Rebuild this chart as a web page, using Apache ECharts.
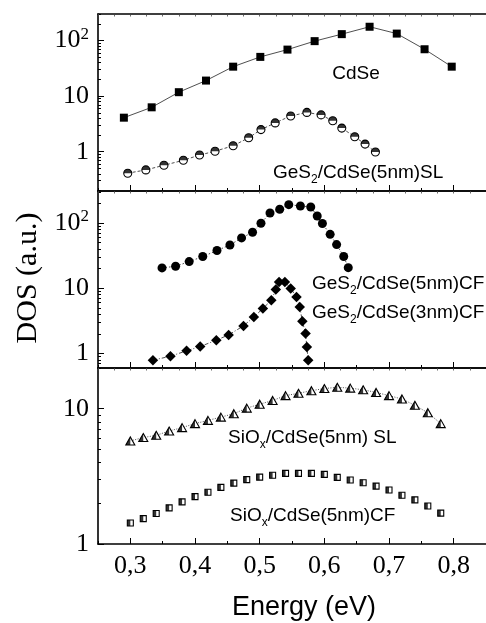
<!DOCTYPE html>
<html>
<head>
<meta charset="utf-8">
<script src="https://cdn.jsdelivr.net/npm/echarts@6/dist/echarts.min.js"></script>
<style>html,body{margin:0;padding:0;background:#fff}#c{width:486px;height:623px}</style>
</head>
<body>
<div id="c"></div>
<script>
// ---- data ----
const energyCdSe = [0.290,0.333,0.375,0.417,0.459,0.501,0.543,0.585,0.627,0.670,0.712,0.755,0.797];
const dosCdSe    = [4.1,6.3,11.8,19.1,34,51,69,98,131,178,134,70,34];

const energyGeSL = [0.296,0.324,0.352,0.382,0.407,0.431,0.459,0.483,0.502,0.524,0.548,0.573,0.595,0.613,0.627,0.647,0.663,0.679];
const dosGeSL    = [0.41,0.47,0.57,0.70,0.87,1.02,1.28,1.78,2.5,3.3,4.4,5.1,4.6,3.6,2.66,1.86,1.37,0.99];

const energyGe5CF = [0.349,0.370,0.391,0.412,0.434,0.454,0.472,0.489,0.502,0.516,0.531,0.545,0.563,0.579,0.589,0.597,0.609,0.619,0.630,0.637];
const dosGe5CF    = [20.5,21.7,25.6,30.6,37.8,46,59,72,99,142,162,191,182,176,128,98,67,46.7,30.6,20.7];

const energyGe3CF = [0.335,0.362,0.387,0.408,0.433,0.452,0.475,0.491,0.505,0.518,0.525,0.530,0.539,0.548,0.557,0.562,0.566,0.571,0.573,0.575];
const dosGe3CF    = [0.79,0.91,1.10,1.28,1.60,1.93,2.65,3.63,4.89,6.55,9.55,12.5,12.5,9.9,7.36,5.17,3.12,2.02,1.26,0.79];

const energySiO = [0.30,0.32,0.34,0.36,0.38,0.40,0.42,0.44,0.46,0.48,0.50,0.52,0.54,0.56,0.58,0.60,0.62,0.64,0.66,0.68,0.70,0.72,0.74,0.76,0.78];
const dosSiOSL  = [5.78,6.12,6.36,6.84,7.25,7.76,8.2,8.67,9.19,10.1,10.8,11.5,12.5,13.0,13.6,14.1,14.4,14.2,13.8,13.2,12.5,11.8,10.6,9.35,7.76];
const dosSiOCF  = [1.43,1.54,1.68,1.85,2.05,2.24,2.41,2.62,2.82,2.99,3.12,3.22,3.33,3.33,3.33,3.27,3.11,2.97,2.84,2.68,2.51,2.29,2.12,1.91,1.69];

const xTickLabels = [0.3,0.4,0.5,0.6,0.7,0.8];
const xMinorTicks = [0.25,0.35,0.45,0.55,0.65,0.75,0.85];
const yTickLabels = [1,10,100];

// ---- helpers ----
const pair = (xs, ys) => xs.map((x, i) => [x, ys[i]]);
const topTicks = [];
for (let i = 0; i <= 24; i++) topTicks.push(+(0.25 + i * 0.025).toFixed(3));
const logMinor = (lo, hi) => {
  const out = [];
  for (let d = -1; d <= 2; d++) for (let m = 2; m <= 9; m++) {
    const v = +(m * Math.pow(10, d)).toPrecision(3);
    if (v >= lo && v <= hi) out.push(v);
  }
  return out;
};

const serif = '"Liberation Serif","DejaVu Serif",serif';
const sans = '"Liberation Sans",Arial,sans-serif';
const BLACK = '#000';

const grids = [
  {left: 98, right: -8, top: 14, height: 177},
  {left: 98, right: -8, top: 191, height: 177},
  {left: 98, right: -8, top: 368, height: 176}
];
const yRanges = [[0.196, 302], [0.6, 309], [1, 20]];

const xAxes = [], yAxes = [];
grids.forEach((g, gi) => {
  const isBottom = gi === 2;
  xAxes.push({
    type: 'value', gridIndex: gi, min: 0.25, max: 0.85, position: 'bottom',
    axisLine: {show: true, onZero: false, lineStyle: {color: BLACK, width: 1.6}},
    axisTick: {show: true, inside: true, length: 6, customValues: xTickLabels, lineStyle: {color: BLACK, width: 1}},
    axisLabel: {show: isBottom, customValues: xTickLabels, margin: 9, color: BLACK,
      fontFamily: serif, fontSize: 26, formatter: v => v.toFixed(1).replace('.', ',')},
    splitLine: {show: false}
  });
  xAxes.push({
    type: 'value', gridIndex: gi, min: 0.25, max: 0.85, position: 'bottom',
    axisLine: {show: false, onZero: false},
    axisTick: {show: true, inside: true, length: 3, customValues: xMinorTicks, lineStyle: {color: BLACK, width: 1}},
    axisLabel: {show: false}, splitLine: {show: false}
  });
  xAxes.push({
    type: 'value', gridIndex: gi, min: 0.25, max: 0.85, position: 'top',
    axisLine: {show: true, onZero: false, lineStyle: {color: BLACK, width: 1.6}},
    axisTick: {show: true, inside: true, length: 2.5, customValues: topTicks, lineStyle: {color: '#444', width: 0.8}},
    axisLabel: {show: false}, splitLine: {show: false}
  });
  const [lo, hi] = yRanges[gi];
  yAxes.push({
    type: 'log', logBase: 10, gridIndex: gi, min: lo, max: hi, position: 'left',
    axisLine: {show: true, onZero: false, lineStyle: {color: BLACK, width: 1.6}},
    axisTick: {show: true, inside: true, length: 6, customValues: yTickLabels.filter(v => v >= lo && v <= hi), lineStyle: {color: BLACK, width: 1}},
    axisLabel: {show: true, customValues: yTickLabels.filter(v => v >= lo && v <= hi), margin: 9, color: BLACK,
      fontFamily: serif, fontSize: 26,
      formatter: v => v === 100 ? '10{sup|2}' : String(v),
      rich: {sup: {fontFamily: serif, fontSize: 17, color: BLACK, padding: [0, 0, 12, 0]}}},
    splitLine: {show: false}
  });
  yAxes.push({
    type: 'log', logBase: 10, gridIndex: gi, min: lo, max: hi, position: 'left',
    axisLine: {show: false, onZero: false},
    axisTick: {show: true, inside: true, length: 3, customValues: logMinor(lo, hi), lineStyle: {color: BLACK, width: 1}},
    axisLabel: {show: false}, splitLine: {show: false}
  });
});

const lineSeries = (data, gi, symbol, size, itemStyle, lineType) => ({
  type: 'line', data, xAxisIndex: gi * 3, yAxisIndex: gi * 2,
  symbol, symbolSize: size, showSymbol: true, itemStyle,
  lineStyle: lineType ? {color: '#222', width: 0.8, type: lineType} : {opacity: 0, width: 0},
  z: 3
});
const overlay = (data, gi, symbol, size, offset) => ({
  type: 'scatter', data, xAxisIndex: gi * 3, yAxisIndex: gi * 2,
  symbol, symbolSize: size, symbolOffset: offset,
  itemStyle: {color: BLACK, borderWidth: 0}, z: 4
});
const solidBlack = {color: BLACK, borderWidth: 0};
const outline = {color: '#fff', borderColor: BLACK, borderWidth: 1.1};

const series = [
  lineSeries(pair(energyCdSe, dosCdSe), 0, 'rect', 8, solidBlack, 'solid'),
  lineSeries(pair(energyGeSL, dosGeSL), 0, 'circle', 8, outline, [3, 2]),
  overlay(pair(energyGeSL, dosGeSL), 0, 'path://M0,10 A10,10 0 0 1 20,10 Z', [8, 4], [0, -2]),
  lineSeries(pair(energyGe5CF, dosGe5CF), 1, 'circle', 9, solidBlack, [1.5, 2]),
  lineSeries(pair(energyGe3CF, dosGe3CF), 1, 'diamond', 10.5, solidBlack, [4, 2, 1, 2]),
  lineSeries(pair(energySiO, dosSiOSL), 2, 'triangle', [9, 8], outline, [1, 1.5]),
  overlay(pair(energySiO, dosSiOSL), 2, 'path://M10,0 L10,20 L0,20 Z', [4.5, 8], [-2.25, 0]),
  lineSeries(pair(energySiO, dosSiOCF), 2, 'rect', 6, outline, null),
  overlay(pair(energySiO, dosSiOCF), 2, 'rect', [3, 6], [-1.5, 0])
];

const richSub = {
  m: {fontFamily: sans, fontSize: 19, lineHeight: 24},
  s: {fontFamily: sans, fontSize: 12, lineHeight: 12, padding: [13, 0, 0, 0]}
};
const subLabel = (x, y, text) => ({
  type: 'text', x, y, z: 10,
  style: {text, fill: BLACK, align: 'left', verticalAlign: 'middle', rich: richSub}
});

const graphic = [
  {type: 'text', x: 356, y: 74, z: 10, style: {text: 'CdSe', fill: BLACK, font: '19px ' + sans, align: 'center', verticalAlign: 'middle'}},
  subLabel(273, 173, '{m|GeS}{s|2}{m|/CdSe(5nm)SL}'),
  subLabel(312, 284, '{m|GeS}{s|2}{m|/CdSe(5nm)CF}'),
  subLabel(312, 313, '{m|GeS}{s|2}{m|/CdSe(3nm)CF}'),
  subLabel(228, 438, '{m|SiO}{s|x}{m|/CdSe(5nm) SL}'),
  subLabel(230, 516, '{m|SiO}{s|x}{m|/CdSe(5nm)CF}'),
  {type: 'text', x: 304, y: 608, z: 10, style: {text: 'Energy (eV)', fill: BLACK, font: '27px ' + sans, align: 'center', verticalAlign: 'middle'}},
  {type: 'text', x: 28, y: 278, rotation: Math.PI / 2, z: 10, style: {text: 'DOS (a.u.)', fill: BLACK, font: '30px ' + serif, align: 'center', verticalAlign: 'middle'}}
];

const chart = echarts.init(document.getElementById('c'), null, {renderer: 'canvas'});
chart.setOption({
  animation: false,
  backgroundColor: '#fff',
  grid: grids,
  xAxis: xAxes,
  yAxis: yAxes,
  series,
  graphic
});
</script>
</body>
</html>
